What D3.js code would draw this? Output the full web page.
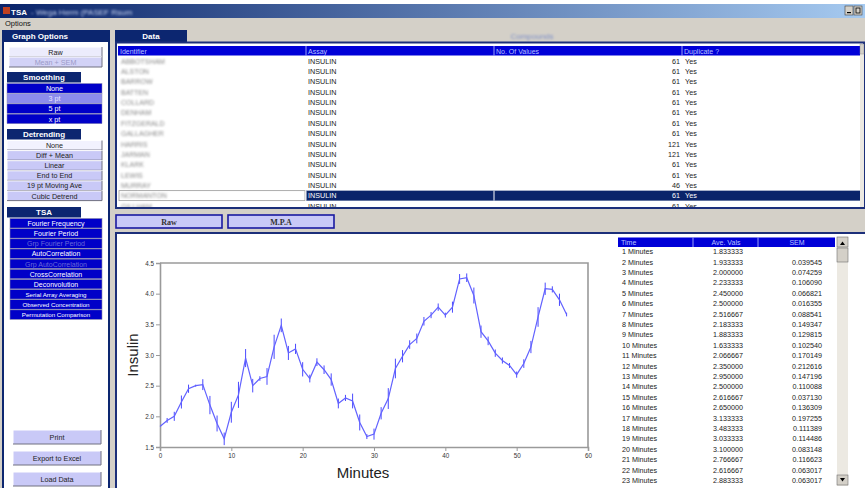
<!DOCTYPE html>
<html>
<head>
<meta charset="utf-8">
<script src="https://cdn.jsdelivr.net/npm/d3@7"></script>
<style>
  body { margin: 0; background: #ffffff; overflow: hidden; }
  svg { display: block; font-family: "Liberation Sans", Arial, sans-serif; }
</style>
</head>
<body>
<svg id="app" width="865" height="488"></svg>
<script>
// ---- Series: mean insulin per minute and its standard error ----
const minutes = [1,2,3,4,5,6,7,8,9,10,11,12,13,14,15,16,17,18,19,20,
                 21,22,23,24,25,26,27,28,29,30,31,32,33,34,35,36,37,38,39,40,
                 41,42,43,44,45,46,47,48,49,50,51,52,53,54,55,56,57,58];
const aveVals = [1.833333,1.933333,2.000000,2.233333,2.450000,2.500000,2.516667,2.183333,1.883333,1.633333,
                 2.066667,2.350000,2.950000,2.500000,2.616667,2.650000,3.133333,3.483333,3.033333,3.100000,
                 2.766667,2.616667,2.883333,2.760000,2.600000,2.210000,2.300000,2.250000,1.900000,1.670000,
                 1.710000,2.050000,2.290000,2.780000,2.980000,3.170000,3.270000,3.550000,3.650000,3.780000,
                 3.650000,3.780000,4.240000,4.260000,3.970000,3.380000,3.230000,3.030000,2.910000,2.830000,
                 2.680000,2.860000,3.130000,3.620000,4.080000,4.070000,3.900000,3.660000];
const semVals = [null,0.039545,0.074259,0.106090,0.066821,0.016355,0.088541,0.149347,0.129815,0.102540,
                 0.170149,0.212616,0.147196,0.110088,0.037130,0.136309,0.197255,0.111389,0.114486,0.083148,
                 0.116623,0.063017,0.063017,0.070000,0.100000,0.080000,0.050000,0.120000,0.130000,0.040000,
                 0.090000,0.100000,0.170000,0.160000,0.100000,0.070000,0.080000,0.070000,0.050000,0.060000,
                 0.040000,0.090000,0.080000,0.070000,0.130000,0.100000,0.070000,0.060000,0.050000,0.040000,
                 0.050000,0.070000,0.100000,0.160000,0.100000,0.050000,0.100000,0.030000];
const yTicks = [1.5, 2.0, 2.5, 3.0, 3.5, 4.0, 4.5];
const xTicks = [0, 10, 20, 30, 40, 50, 60];
const visibleRows = 23;

// ---- Data sheet listing ----
const dataHeaders = ["Identifier", "Assay", "No. Of Values", "Duplicate ?"];
const identifiers = ["ABBOTSHAM", "ALSTON", "BARROW", "BATTEN", "COLLARD", "DENHAM", "FITZGERALD",
                     "GALLAGHER", "HARRIS", "JARMAN", "KLARK", "LEWIS", "MURRAY", "NORMANTON", "GILLHAM"];
const assays = ["INSULIN","INSULIN","INSULIN","INSULIN","INSULIN","INSULIN","INSULIN","INSULIN",
                "INSULIN","INSULIN","INSULIN","INSULIN","INSULIN","INSULIN","INSULIN"];
const valueCounts = [61, 61, 61, 61, 61, 61, 61, 61, 121, 121, 61, 61, 46, 61, 61];
const duplicates = ["Yes","Yes","Yes","Yes","Yes","Yes","Yes","Yes","Yes","Yes","Yes","Yes","Yes","Yes","Yes"];
const selectedRow = 13;
const resultHeaders = ["Time", "Ave. Vals", "SEM"];

// ---- Graph option menus ----
const plotOpts = ["Raw", "Mean + SEM"];
const smoothingOpts = ["None", "3 pt", "5 pt", "x pt"];
const detrendOpts = ["None", "Diff + Mean", "Linear", "End to End", "19 pt Moving Ave", "Cubic Detrend"];
const tsaOpts = ["Fourier Frequency", "Fourier Period", "Grp Fourier Period", "AutoCorrelation",
                 "Grp AutoCorrelation", "CrossCorrelation", "Deconvolution", "Serial Array Averaging",
                 "Observed Concentration", "Permutation Comparison"];
const tsaDisabled = new Set(["Grp Fourier Period", "Grp AutoCorrelation"]);
const actionOpts = ["Print", "Export to Excel", "Load Data"];

const NAVY = "#0c2670", BLUE = "#0000c8", HEAD = "#0000d8", FACE = "#d4d0c8", LAV = "#c9c9f7";

const svg = d3.select("#app");
const defs = svg.append("defs");
defs.append("filter").attr("id", "smudge").attr("x", "-30%").attr("y", "-80%")
  .attr("width", "160%").attr("height", "260%")
  .append("feGaussianBlur").attr("stdDeviation", 1.3);
const tg = defs.append("linearGradient").attr("id", "titleGrad");
tg.append("stop").attr("offset", "0%").attr("stop-color", "#0a246a");
tg.append("stop").attr("offset", "100%").attr("stop-color", "#a6caf0");
defs.append("clipPath").attr("id", "sheetClip").append("rect")
  .attr("x", 117).attr("y", 44).attr("width", 744).attr("height", 163);
defs.append("clipPath").attr("id", "resultClip").append("rect")
  .attr("x", 617).attr("y", 236).attr("width", 220).attr("height", 250);

// window face
svg.append("rect").attr("width", 865).attr("height", 488).attr("fill", FACE);
svg.append("rect").attr("width", 865).attr("height", 4).attr("fill", "#ffffff");

// title bar
svg.append("rect").attr("x", 0).attr("y", 4).attr("width", 865).attr("height", 14).attr("fill", "url(#titleGrad)");
svg.append("rect").attr("x", 3).attr("y", 7).attr("width", 7).attr("height", 7).attr("fill", "#c04020");
svg.append("text").attr("x", 11).attr("y", 14.5).attr("fill", "#fff").attr("font-size", 8).attr("font-weight", "bold").text("TSA");
svg.append("text").attr("x", 31).attr("y", 14.5).attr("fill", "#c8d4f0").attr("font-size", 8)
  .attr("filter", "url(#smudge)").text("- Wega Herm (PASEF Rsum");
[845, 854].forEach((bx, i) => {
  svg.append("rect").attr("x", bx).attr("y", 6).attr("width", 8).attr("height", 9)
    .attr("fill", "#d4d0c8").attr("stroke", "#404040").attr("stroke-width", 0.6);
  svg.append("rect").attr("x", bx + 2).attr("y", i ? 8 : 12).attr("width", 4).attr("height", i ? 5 : 1.2)
    .attr("fill", i ? "none" : "#000").attr("stroke", i ? "#000" : "none").attr("stroke-width", 0.8);
});

// menu bar
svg.append("text").attr("x", 5).attr("y", 25.5).attr("font-size", 7.5).attr("fill", "#111").text("Options");

// ---------- left panel ----------
const left = svg.append("g");
left.append("rect").attr("x", 3).attr("y", 41).attr("width", 106).attr("height", 450)
  .attr("fill", "#ffffff").attr("stroke", NAVY).attr("stroke-width", 2);
left.append("rect").attr("x", 2).attr("y", 30).attr("width", 108).attr("height", 11).attr("fill", NAVY);
left.append("text").attr("x", 12).attr("y", 38.5).attr("fill", "#fff").attr("font-size", 8)
  .attr("font-weight", "bold").text("Graph Options");

function bevelButton(g, x, y, w, h, label, fill, color, raised) {
  g.append("rect").attr("x", x).attr("y", y).attr("width", w).attr("height", h).attr("fill", fill);
  if (raised) {
    g.append("path").attr("d", `M${x},${y + h}V${y}H${x + w}`).attr("fill", "none").attr("stroke", "#ffffff").attr("stroke-width", 1);
    g.append("path").attr("d", `M${x + w},${y}V${y + h}H${x}`).attr("fill", "none").attr("stroke", "#707080").attr("stroke-width", 1);
  }
  g.append("text").attr("x", x + w / 2).attr("y", y + h / 2 + 2.7).attr("text-anchor", "middle")
    .attr("font-size", 7.2).attr("fill", color).text(label);
}
function sectionHead(g, y, label) {
  g.append("rect").attr("x", 7).attr("y", y).attr("width", 74).attr("height", 10.5).attr("fill", NAVY);
  g.append("text").attr("x", 44).attr("y", y + 8.2).attr("text-anchor", "middle").attr("fill", "#fff")
    .attr("font-size", 8).attr("font-weight", "bold").text(label);
}

// plot type
bevelButton(left, 9, 47, 93, 10, plotOpts[0], "#ececfc", "#222", true);
bevelButton(left, 9, 57, 93, 10, plotOpts[1], "#d2d2f6", "#9a9ac8", true);

// smoothing
sectionHead(left, 72, "Smoothing");
smoothingOpts.forEach((s, i) => {
  const on = i === 1;
  left.append("rect").attr("x", 7).attr("y", 83.5 + i * 10.2).attr("width", 95).attr("height", 9.6)
    .attr("fill", on ? "#8c8cec" : BLUE).attr("stroke", "#9090b0").attr("stroke-width", 0.5);
  left.append("text").attr("x", 54.5).attr("y", 91 + i * 10.2).attr("text-anchor", "middle")
    .attr("font-size", 7.2).attr("fill", on ? "#e8e8ff" : "#ffffff").text(s);
});

// detrending
sectionHead(left, 129, "Detrending");
detrendOpts.forEach((s, i) => {
  bevelButton(left, 7, 140.5 + i * 10.1, 95, 9.6, s, i === 0 ? "#f2f2fe" : LAV, "#222", true);
});

// TSA
sectionHead(left, 207, "TSA");
tsaOpts.forEach((s, i) => {
  left.append("rect").attr("x", 10).attr("y", 218.5 + i * 10.15).attr("width", 92).attr("height", 9.5)
    .attr("fill", BLUE).attr("stroke", "#8888a8").attr("stroke-width", 0.6);
  left.append("text").attr("x", 56).attr("y", 226 + i * 10.15).attr("text-anchor", "middle")
    .attr("font-size", s.length > 20 ? 6.2 : 7).attr("fill", tsaDisabled.has(s) ? "#6a6ad8" : "#ffffff").text(s);
});

// actions
actionOpts.forEach((s, i) => {
  bevelButton(left, 13, 430 + i * 21, 88, 14, s, LAV, "#222", true);
});

// ---------- data sheet ----------
const sheetPane = svg.append("g");
sheetPane.append("rect").attr("x", 115).attr("y", 30).attr("width", 72).attr("height", 12).attr("fill", NAVY);
sheetPane.append("text").attr("x", 151).attr("y", 39).attr("text-anchor", "middle").attr("fill", "#fff")
  .attr("font-size", 8).attr("font-weight", "bold").text("Data");
sheetPane.append("text").attr("x", 532).attr("y", 39).attr("text-anchor", "middle").attr("fill", "#7d8fc8")
  .attr("font-size", 8).attr("filter", "url(#smudge)").text("Compounds");
sheetPane.append("rect").attr("x", 116).attr("y", 42.5).attr("width", 748).attr("height", 165.5)
  .attr("fill", "#ffffff").attr("stroke", "#1c2f7a").attr("stroke-width", 2);

const colX = [118, 306, 494, 682];
const sheet = sheetPane.append("g").attr("clip-path", "url(#sheetClip)");
sheet.append("rect").attr("x", 118).attr("y", 46).attr("width", 742).attr("height", 9.5).attr("fill", HEAD);
dataHeaders.forEach((h, i) => {
  if (i) sheet.append("line").attr("x1", colX[i]).attr("x2", colX[i]).attr("y1", 46).attr("y2", 55.5)
    .attr("stroke", "#c0c8ff").attr("stroke-width", 0.8);
  sheet.append("text").attr("x", colX[i] + 2).attr("y", 53.5).attr("font-size", 7).attr("fill", "#b8c2ff").text(h);
});
const rowY = d3.scaleLinear().domain([0, 1]).range([60.7, 71.08]);
identifiers.forEach((id, i) => {
  const cy = rowY(i);
  const sel = i === selectedRow;
  if (sel) {
    sheet.append("rect").attr("x", 306).attr("y", cy - 5).attr("width", 554).attr("height", 10).attr("fill", "#0a246a");
    sheet.append("rect").attr("x", 119).attr("y", cy - 5).attr("width", 186).attr("height", 10)
      .attr("fill", "#fff").attr("stroke", "#9a9a9a").attr("stroke-width", 0.8);
    sheet.append("line").attr("x1", 306).attr("x2", 306).attr("y1", cy - 5).attr("y2", cy + 5).attr("stroke", "#fff");
    sheet.append("line").attr("x1", 494).attr("x2", 494).attr("y1", cy - 5).attr("y2", cy + 5).attr("stroke", "#fff");
  }
  const tc = sel ? "#ffffff" : "#222";
  sheet.append("text").attr("x", 121).attr("y", cy + 2.8).attr("font-size", 7).attr("fill", "#8a8a8a")
    .attr("filter", "url(#smudge)").text(id);
  sheet.append("text").attr("x", 308).attr("y", cy + 2.8).attr("font-size", 7.2).attr("fill", tc).text(assays[i]);
  sheet.append("text").attr("x", 680).attr("y", cy + 2.8).attr("text-anchor", "end").attr("font-size", 7.2)
    .attr("fill", tc).text(valueCounts[i]);
  sheet.append("text").attr("x", 685).attr("y", cy + 2.8).attr("font-size", 7.2).attr("fill", tc).text(duplicates[i]);
});
// sheet scrollbar
sheetPane.append("rect").attr("x", 860).attr("y", 44).attr("width", 4).attr("height", 163).attr("fill", "#ece9e2");
sheetPane.append("rect").attr("x", 860).attr("y", 44).attr("width", 4).attr("height", 10).attr("fill", "#d4d0c8").attr("stroke", "#888").attr("stroke-width", 0.4);

// ---------- view buttons ----------
[["Raw", 116], ["M.P.A", 228]].forEach(([s, bx]) => {
  svg.append("rect").attr("x", bx).attr("y", 215).attr("width", 106).attr("height", 13)
    .attr("fill", LAV).attr("stroke", "#1a1aa0").attr("stroke-width", 1.6);
  svg.append("text").attr("x", bx + 53).attr("y", 224.5).attr("text-anchor", "middle")
    .attr("font-family", "'Liberation Serif', 'Times New Roman', serif").attr("font-weight", "bold")
    .attr("font-size", 8).attr("fill", "#333").text(s);
});

// ---------- chart panel ----------
svg.append("rect").attr("x", 116).attr("y", 233).attr("width", 752).attr("height", 260)
  .attr("fill", "#ffffff").attr("stroke", "#1c2f7a").attr("stroke-width", 2);

const x = d3.scaleLinear().domain([0, 60]).range([160, 588]);
const y = d3.scaleLinear().domain([1.5, 4.5]).range([447, 263]);
const chart = svg.append("g");

const points = minutes.map((m, i) => ({ t: m - 1, v: aveVals[i], s: semVals[i] }));

const yAxis = chart.append("g").attr("transform", `translate(${x(0)},0)`)
  .call(d3.axisLeft(y).tickValues(yTicks).tickFormat(d3.format(".1f")).tickSize(4).tickPadding(2));
const xAxis = chart.append("g").attr("transform", `translate(0,${y(1.5)})`)
  .call(d3.axisBottom(x).tickValues(xTicks).tickFormat(d3.format("d")).tickSize(4).tickPadding(3));
[yAxis, xAxis].forEach(a => {
  a.select(".domain").attr("stroke", "#9a9a9a").attr("stroke-width", 1.6);
  a.selectAll(".tick line").attr("stroke", "#9a9a9a").attr("stroke-width", 1);
  a.selectAll(".tick text").attr("font-size", 6.3).attr("fill", "#333")
    .attr("font-family", "'Liberation Sans', Arial, sans-serif");
});
chart.append("path").attr("d", `M${x(0)},${y(4.5)}H${x(60)}V${y(1.5)}`)
  .attr("fill", "none").attr("stroke", "#9a9a9a").attr("stroke-width", 1.6);

chart.append("text").attr("transform", `translate(138,${(y(1.5) + y(4.5)) / 2}) rotate(-90)`)
  .attr("text-anchor", "middle").attr("font-size", 15).attr("fill", "#222").text("Insulin");
chart.append("text").attr("x", 363).attr("y", 478).attr("text-anchor", "middle")
  .attr("font-size", 15).attr("fill", "#222").text("Minutes");

// error bars (mean ± SEM)
chart.append("g").selectAll("line").data(points.filter(d => d.s != null)).join("line")
  .attr("x1", d => x(d.t)).attr("x2", d => x(d.t))
  .attr("y1", d => y(d.v - d.s)).attr("y2", d => y(d.v + d.s))
  .attr("stroke", "#4a4aff").attr("stroke-width", 1);
chart.append("path").datum(points)
  .attr("d", d3.line().x(d => x(d.t)).y(d => y(d.v)))
  .attr("fill", "none").attr("stroke", "#6262ff").attr("stroke-width", 1.2);

// ---------- results list ----------
const res = svg.append("g").attr("clip-path", "url(#resultClip)");
res.append("rect").attr("x", 618).attr("y", 237.5).attr("width", 217).attr("height", 9.5).attr("fill", HEAD);
[693, 758].forEach(dx => res.append("line").attr("x1", dx).attr("x2", dx).attr("y1", 237.5).attr("y2", 247)
  .attr("stroke", "#c0c8ff").attr("stroke-width", 0.8));
res.append("text").attr("x", 621).attr("y", 245).attr("font-size", 7).attr("fill", "#b8c2ff").text(resultHeaders[0]);
res.append("text").attr("x", 726).attr("y", 245).attr("text-anchor", "middle").attr("font-size", 7).attr("fill", "#b8c2ff").text(resultHeaders[1]);
res.append("text").attr("x", 797).attr("y", 245).attr("text-anchor", "middle").attr("font-size", 7).attr("fill", "#b8c2ff").text(resultHeaders[2]);
const listY = d3.scaleLinear().domain([0, 1]).range([251.5, 261.9]);
minutes.slice(0, visibleRows).forEach((m, i) => {
  const cy = listY(i) + 2.6;
  res.append("text").attr("x", 622).attr("y", cy).attr("font-size", 7.2).attr("fill", "#222").text(`${m} Minutes`);
  res.append("text").attr("x", 713).attr("y", cy).attr("font-size", 7.2).attr("fill", "#222").text(aveVals[i].toFixed(6));
  if (semVals[i] != null)
    res.append("text").attr("x", 822).attr("y", cy).attr("text-anchor", "end").attr("font-size", 7.2)
      .attr("fill", "#222").text(semVals[i].toFixed(6));
});
// results scrollbar
svg.append("rect").attr("x", 837).attr("y", 237).attr("width", 11).attr("height", 249).attr("fill", "#ece9e2");
[[237, "M840,245L842.5,241.5L845,245Z"], [475, "M840,478L842.5,481.5L845,478Z"]].forEach(([by, d]) => {
  svg.append("rect").attr("x", 837).attr("y", by).attr("width", 11).attr("height", 10)
    .attr("fill", FACE).attr("stroke", "#707070").attr("stroke-width", 0.6);
  svg.append("path").attr("d", d).attr("fill", "#000");
});
svg.append("rect").attr("x", 837).attr("y", 248).attr("width", 11).attr("height", 14)
  .attr("fill", FACE).attr("stroke", "#707070").attr("stroke-width", 0.6);
</script>
</body>
</html>
